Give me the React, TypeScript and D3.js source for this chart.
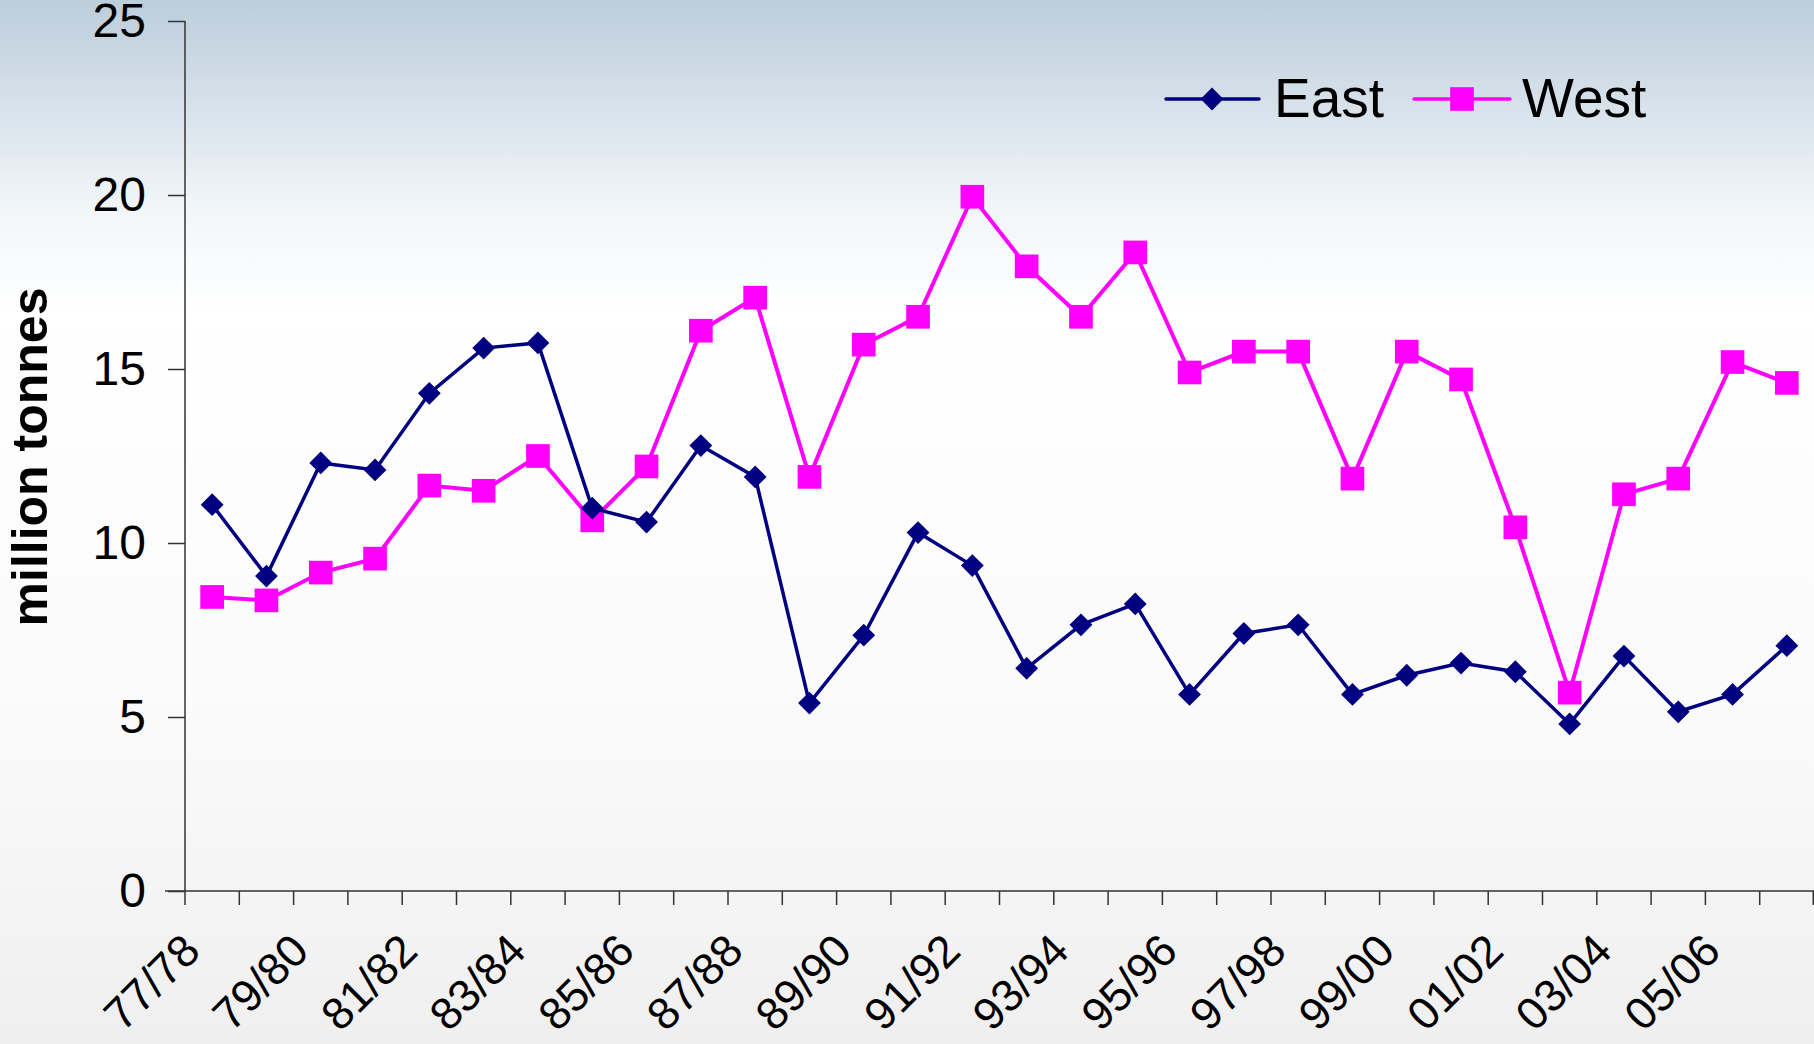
import React, { useEffect, useRef } from 'react';
import * as d3 from 'd3';

const seasons = [
  '77/78', '78/79', '79/80', '80/81', '81/82', '82/83', '83/84', '84/85', '85/86', '86/87',
  '87/88', '88/89', '89/90', '90/91', '91/92', '92/93', '93/94', '94/95', '95/96', '96/97',
  '97/98', '98/99', '99/00', '00/01', '01/02', '02/03', '03/04', '04/05', '05/06', '06/07'
];

const east = [
  11.1, 9.05, 12.3, 12.1, 14.3, 15.6, 15.75, 11.0, 10.6, 12.8,
  11.9, 5.4, 7.35, 10.3, 9.35, 6.4, 7.65, 8.25, 5.65, 7.4,
  7.65, 5.65, 6.2, 6.55, 6.3, 4.8, 6.75, 5.15, 5.65, 7.05
];

const west = [
  8.45, 8.35, 9.15, 9.55, 11.65, 11.5, 12.5, 10.65, 12.2, 16.1,
  17.05, 11.9, 15.7, 16.5, 19.95, 17.95, 16.5, 18.35, 14.9, 15.5,
  15.5, 11.85, 15.5, 14.7, 10.45, 5.7, 11.4, 11.85, 15.2, 14.6
];

const yTicks = [0, 5, 10, 15, 20, 25];

const W = 1814;
const H = 1044;
const left = 185;
const right = 1814;
const top = 21;
const bottom = 891;

const App: React.FC = () => {
  const svgRef = useRef<SVGSVGElement>(null);

  useEffect(() => {
    if (!svgRef.current) return;
    const svg = d3.select(svgRef.current);
    svg.selectAll('*').remove();

    const defs = svg.append('defs');
    const grad = defs.append('linearGradient')
      .attr('id', 'bg').attr('x1', 0).attr('y1', 0).attr('x2', 0).attr('y2', 1);
    [
      [0, '#bccddb'], [0.1, '#d6e1ea'], [0.2, '#f2f6f9'], [0.3, '#ffffff'],
      [0.7, '#fafafa'], [1, '#efefef']
    ].forEach(([o, c]) => grad.append('stop').attr('offset', o as number).attr('stop-color', c as string));
    svg.append('rect').attr('width', W).attr('height', H).attr('fill', 'url(#bg)');

    const x = d3.scaleBand<string>().domain(seasons).range([left, right]);
    const y = d3.scaleLinear().domain([0, 25]).range([bottom, top]);
    const cx = (s: string) => (x(s) || 0) + x.bandwidth() / 2;

    const font = '"Liberation Sans", Arial, sans-serif';

    // y axis
    const yAxis = svg.append('g')
      .attr('transform', `translate(${left},0)`)
      .call(d3.axisLeft(y).tickValues(yTicks).tickSize(17).tickPadding(22).tickFormat(d3.format('d')));
    yAxis.select('.domain').attr('stroke', '#333').attr('stroke-width', 1.5).attr('d', `M0,${top}V${bottom}`);
    yAxis.selectAll('.tick line').attr('stroke', '#333').attr('stroke-width', 1.5);
    yAxis.selectAll('.tick text')
      .attr('font-family', font).attr('font-size', 48).attr('fill', '#000');

    // x axis: ticks at band boundaries
    const xg = svg.append('g');
    xg.append('line')
      .attr('x1', left - 20).attr('x2', right)
      .attr('y1', bottom).attr('y2', bottom)
      .attr('stroke', '#333').attr('stroke-width', 1.5);
    seasons.forEach((s) => {
      const bx = x(s) || 0;
      xg.append('line')
        .attr('x1', bx).attr('x2', bx).attr('y1', bottom).attr('y2', bottom + 14)
        .attr('stroke', '#333').attr('stroke-width', 1.5);
    });
    xg.append('line')
      .attr('x1', right - 0.75).attr('x2', right - 0.75).attr('y1', bottom).attr('y2', bottom + 14)
      .attr('stroke', '#333').attr('stroke-width', 1.5);

    seasons.forEach((s, i) => {
      if (i % 2 !== 0) return;
      xg.append('text')
        .attr('transform', `translate(${cx(s) - 32},${bottom + 40}) rotate(-45)`)
        .attr('text-anchor', 'end')
        .attr('dy', '0.7em')
        .attr('font-family', font).attr('font-size', 45).attr('fill', '#000')
        .text(s);
    });

    // y title
    svg.append('text')
      .attr('transform', `translate(47,457) rotate(-90)`)
      .attr('text-anchor', 'middle')
      .attr('font-family', font).attr('font-size', 50).attr('font-weight', 'bold')
      .text('million tonnes');

    const line = d3.line<number>()
      .x((_, i) => cx(seasons[i]))
      .y((d) => y(d));

    const diamond = d3.symbol().type(d3.symbolSquare).size(260);
    const square = d3.symbol().type(d3.symbolSquare).size(560);

    // West
    svg.append('path').datum(west).attr('d', line)
      .attr('fill', 'none').attr('stroke', '#ff00ff').attr('stroke-width', 4);
    svg.append('g').selectAll('path').data(west).join('path')
      .attr('transform', (d, i) => `translate(${cx(seasons[i])},${y(d)})`)
      .attr('d', square).attr('fill', '#ff00ff');

    // East
    svg.append('path').datum(east).attr('d', line)
      .attr('fill', 'none').attr('stroke', '#000080').attr('stroke-width', 3.5);
    svg.append('g').selectAll('path').data(east).join('path')
      .attr('transform', (d, i) => `translate(${cx(seasons[i])},${y(d)}) rotate(45)`)
      .attr('d', diamond).attr('fill', '#000080');

    // legend
    const lg = svg.append('g');
    const ly = 99;
    lg.append('line').attr('x1', 1166).attr('x2', 1259).attr('y1', ly).attr('y2', ly)
      .attr('stroke', '#000080').attr('stroke-width', 3.5).attr('stroke-linecap', 'round');
    lg.append('path').attr('transform', `translate(1212,${ly}) rotate(45)`).attr('d', diamond).attr('fill', '#000080');
    lg.append('text').attr('x', 1274).attr('y', ly + 18)
      .attr('font-family', font).attr('font-size', 55).text('East');
    lg.append('line').attr('x1', 1414).attr('x2', 1510).attr('y1', ly).attr('y2', ly)
      .attr('stroke', '#ff00ff').attr('stroke-width', 3.5).attr('stroke-linecap', 'round');
    lg.append('path').attr('transform', `translate(1462,${ly})`).attr('d', square).attr('fill', '#ff00ff');
    lg.append('text').attr('x', 1522).attr('y', ly + 18)
      .attr('font-family', font).attr('font-size', 55).text('West');
  }, []);

  return (
    <svg
      ref={svgRef}
      width={W}
      height={H}
      style={{ position: 'absolute', left: 0, top: 0, display: 'block' }}
    />
  );
};

export default App;
